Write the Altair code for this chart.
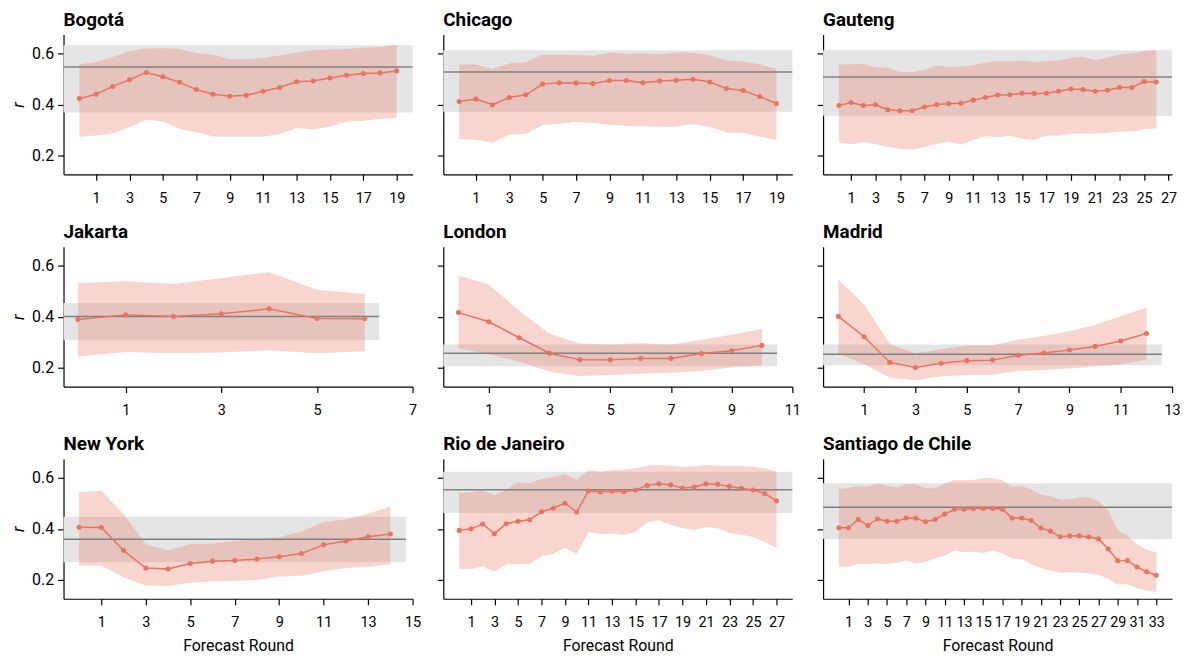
import altair as alt
import pandas as pd

FONT = "Roboto, Noto Sans"
SALMON = "#E9735F"

cities = ["Bogotá", "Chicago", "Gauteng", "Jakarta", "London", "Madrid",
          "New York", "Rio de Janeiro", "Santiago de Chile"]

bogota_r = [0.423, 0.440, 0.471, 0.497, 0.526, 0.509, 0.487, 0.459, 0.440, 0.432,
            0.436, 0.452, 0.467, 0.489, 0.492, 0.504, 0.515, 0.522, 0.524, 0.532]
bogota_hi = [0.558, 0.567, 0.587, 0.610, 0.620, 0.621, 0.618, 0.601, 0.596, 0.579,
             0.578, 0.584, 0.593, 0.604, 0.614, 0.616, 0.618, 0.623, 0.626, 0.635]
bogota_lo = [0.273, 0.278, 0.286, 0.310, 0.340, 0.333, 0.304, 0.291, 0.274, 0.273,
             0.273, 0.273, 0.284, 0.307, 0.301, 0.312, 0.332, 0.336, 0.343, 0.347]

chicago_r = [0.412, 0.421, 0.399, 0.427, 0.438, 0.480, 0.485, 0.484, 0.482, 0.494,
             0.494, 0.485, 0.492, 0.495, 0.499, 0.488, 0.463, 0.455, 0.431, 0.404]
chicago_hi = [0.557, 0.557, 0.539, 0.561, 0.566, 0.597, 0.597, 0.595, 0.591, 0.604,
              0.599, 0.601, 0.597, 0.604, 0.603, 0.595, 0.573, 0.569, 0.558, 0.540]
chicago_lo = [0.263, 0.261, 0.250, 0.281, 0.285, 0.319, 0.324, 0.332, 0.327, 0.320,
              0.315, 0.314, 0.312, 0.312, 0.323, 0.312, 0.290, 0.289, 0.273, 0.260]

gauteng_r = [0.396, 0.408, 0.396, 0.399, 0.379, 0.375, 0.375, 0.390, 0.400, 0.403,
             0.405, 0.417, 0.427, 0.437, 0.438, 0.444, 0.443, 0.444, 0.452, 0.461,
             0.459, 0.452, 0.456, 0.467, 0.467, 0.490, 0.488]
gauteng_hi = [0.557, 0.558, 0.559, 0.545, 0.544, 0.528, 0.528, 0.536, 0.553, 0.548,
              0.549, 0.553, 0.565, 0.571, 0.569, 0.573, 0.567, 0.569, 0.574, 0.583,
              0.588, 0.575, 0.584, 0.597, 0.601, 0.610, 0.614]
gauteng_lo = [0.250, 0.243, 0.252, 0.244, 0.234, 0.225, 0.222, 0.233, 0.244, 0.254,
              0.242, 0.260, 0.275, 0.271, 0.278, 0.265, 0.260, 0.278, 0.277, 0.285,
              0.286, 0.285, 0.289, 0.293, 0.294, 0.303, 0.305]

jakarta_r = [0.389, 0.407, 0.401, 0.411, 0.431, 0.393, 0.392]
jakarta_hi = [0.531, 0.539, 0.528, 0.552, 0.575, 0.506, 0.489]
jakarta_lo = [0.243, 0.261, 0.256, 0.259, 0.268, 0.256, 0.264]

london_r = [0.416, 0.380, 0.317, 0.256, 0.230, 0.230, 0.235, 0.235, 0.255, 0.266, 0.287]
london_hi = [0.562, 0.526, 0.424, 0.333, 0.294, 0.290, 0.295, 0.290, 0.308, 0.329, 0.351]
london_lo = [0.276, 0.251, 0.223, 0.183, 0.167, 0.170, 0.175, 0.179, 0.186, 0.200, 0.209]

madrid_r = [0.401, 0.321, 0.220, 0.200, 0.217, 0.227, 0.229, 0.248, 0.257, 0.269,
            0.283, 0.304, 0.334]
madrid_hi = [0.545, 0.448, 0.291, 0.256, 0.272, 0.287, 0.287, 0.309, 0.324, 0.343,
             0.367, 0.402, 0.436]
madrid_lo = [0.255, 0.213, 0.160, 0.150, 0.165, 0.170, 0.171, 0.187, 0.190, 0.196,
             0.204, 0.213, 0.230]

newyork_r = [0.406, 0.405, 0.315, 0.246, 0.242, 0.264, 0.273, 0.276, 0.281, 0.290,
             0.303, 0.337, 0.352, 0.369, 0.380]
newyork_hi = [0.544, 0.550, 0.458, 0.338, 0.315, 0.339, 0.342, 0.352, 0.359, 0.367,
              0.390, 0.427, 0.437, 0.459, 0.487]
newyork_lo = [0.256, 0.255, 0.210, 0.177, 0.175, 0.188, 0.193, 0.196, 0.199, 0.213,
              0.216, 0.233, 0.246, 0.251, 0.261]

rio_r = [0.394, 0.400, 0.419, 0.381, 0.420, 0.430, 0.436, 0.467, 0.481, 0.501,
         0.466, 0.549, 0.545, 0.548, 0.546, 0.553, 0.571, 0.577, 0.573, 0.561,
         0.565, 0.577, 0.575, 0.567, 0.560, 0.553, 0.539, 0.510]
rio_hi = [0.541, 0.544, 0.553, 0.532, 0.554, 0.583, 0.579, 0.596, 0.603, 0.616,
          0.592, 0.631, 0.626, 0.631, 0.633, 0.638, 0.648, 0.651, 0.648, 0.644,
          0.646, 0.651, 0.648, 0.648, 0.647, 0.644, 0.638, 0.625]
rio_lo = [0.242, 0.241, 0.253, 0.231, 0.261, 0.261, 0.263, 0.292, 0.302, 0.325,
          0.302, 0.387, 0.379, 0.382, 0.377, 0.388, 0.425, 0.434, 0.415, 0.403,
          0.395, 0.407, 0.402, 0.383, 0.378, 0.368, 0.348, 0.325]

santiago_r = [0.404, 0.404, 0.437, 0.413, 0.439, 0.430, 0.430, 0.443, 0.442, 0.428,
              0.437, 0.458, 0.476, 0.477, 0.480, 0.480, 0.480, 0.477, 0.443, 0.443,
              0.433, 0.403, 0.391, 0.369, 0.372, 0.373, 0.368, 0.360, 0.321, 0.275,
              0.275, 0.250, 0.231, 0.217]
santiago_hi = [0.557, 0.561, 0.570, 0.567, 0.577, 0.570, 0.563, 0.575, 0.575, 0.560,
               0.560, 0.577, 0.592, 0.591, 0.592, 0.600, 0.600, 0.590, 0.567, 0.569,
               0.556, 0.535, 0.528, 0.515, 0.516, 0.523, 0.524, 0.509, 0.472, 0.394,
               0.374, 0.339, 0.318, 0.306]
santiago_lo = [0.253, 0.250, 0.264, 0.262, 0.264, 0.262, 0.268, 0.276, 0.264, 0.270,
               0.283, 0.295, 0.315, 0.309, 0.310, 0.305, 0.315, 0.304, 0.282, 0.280,
               0.262, 0.246, 0.236, 0.227, 0.229, 0.228, 0.224, 0.219, 0.204, 0.181,
               0.183, 0.167, 0.158, 0.152]

baseline_mean = [0.547, 0.528, 0.508, 0.401, 0.256, 0.252, 0.359, 0.554, 0.485]
baseline_lo = [0.368, 0.371, 0.356, 0.307, 0.205, 0.209, 0.269, 0.462, 0.360]
baseline_hi = [0.633, 0.613, 0.613, 0.454, 0.290, 0.290, 0.448, 0.625, 0.579]

y_ticks = [0.2, 0.4, 0.6]
y_domain = [0.125, 0.675]

series = [
    (bogota_r, bogota_lo, bogota_hi),
    (chicago_r, chicago_lo, chicago_hi),
    (gauteng_r, gauteng_lo, gauteng_hi),
    (jakarta_r, jakarta_lo, jakarta_hi),
    (london_r, london_lo, london_hi),
    (madrid_r, madrid_lo, madrid_hi),
    (newyork_r, newyork_lo, newyork_hi),
    (rio_r, rio_lo, rio_hi),
    (santiago_r, santiago_lo, santiago_hi),
]

W, H = 352, 141


def panel(i):
    name = cities[i]
    r, lo, hi = series[i]
    n = len(r) - 1
    df = pd.DataFrame({"round": list(range(n + 1)), "r": r, "lo": lo, "hi": hi})
    last_tick = n if n % 2 == 1 else n + 1
    x0, x1 = -0.05 * n, 1.05 * n
    band = pd.DataFrame({"x": [x0], "x2": [x1], "lo": [baseline_lo[i]],
                         "hi": [baseline_hi[i]], "m": [baseline_mean[i]]})
    col, row = i % 3, i // 3
    xscale = alt.Scale(domain=[x0, max(x1, last_tick)], nice=False, zero=False)
    yscale = alt.Scale(domain=y_domain, nice=False, zero=False)
    xvals = list(range(1, last_tick + 1, 2))
    xaxis = alt.Axis(values=xvals, tickCount=len(xvals) + 5, labelOverlap=False,
                     labelFlush=False, labelFontSize=14.5,
                     title="Forecast Round" if row == 2 else None)
    if col == 0:
        yaxis = alt.Axis(values=y_ticks, tickCount=10, format=".1f", title="r",
                         labelOverlap=False)
    else:
        yaxis = alt.Axis(values=y_ticks, tickCount=10, labels=False, title=None)

    rect = alt.Chart(band).mark_rect(color="#e5e5e5").encode(
        x=alt.X("x:Q", scale=xscale, axis=xaxis), x2="x2:Q",
        y=alt.Y("lo:Q", scale=yscale, axis=yaxis), y2="hi:Q")
    area = alt.Chart(df).mark_area(color=SALMON, opacity=0.3).encode(
        x="round:Q", y="lo:Q", y2="hi:Q")
    rule = alt.Chart(band).mark_rule(color="#808080", strokeWidth=1.5).encode(
        x="x:Q", x2="x2:Q", y="m:Q")
    line = alt.Chart(df).mark_line(color=SALMON, strokeWidth=1.5).encode(
        x="round:Q", y="r:Q")
    pts = alt.Chart(df).mark_circle(color=SALMON, size=26, opacity=1).encode(
        x="round:Q", y="r:Q")
    return alt.layer(rect, area, rule, line, pts).properties(
        width=W, height=H,
        title=alt.TitleParams(name, anchor="start", frame="group", fontSize=19,
                              fontWeight="bold", font=FONT, color="black", offset=5))


chart = alt.concat(*[panel(i) for i in range(9)], columns=3,
                   spacing={"row": 73, "column": 31}, bounds="flush").configure_view(
    stroke=None
).configure_axis(
    grid=False, domainColor="black", tickColor="black", domainWidth=1.2,
    tickWidth=1.2, tickSize=6, labelFont=FONT, labelFontSize=16, labelColor="black",
    titleFont=FONT, titleFontSize=16, titleFontWeight="normal", titleColor="black"
).configure_axisY(
    titleFontStyle="italic", titlePadding=4, titleFontSize=17, labelPadding=4
).configure_axisX(
    titlePadding=9, labelPadding=11
).properties(padding={"left": 1, "top": 0, "right": 5, "bottom": 5})

chart.save("out.html", embed_options={"renderer": "svg", "actions": False})
